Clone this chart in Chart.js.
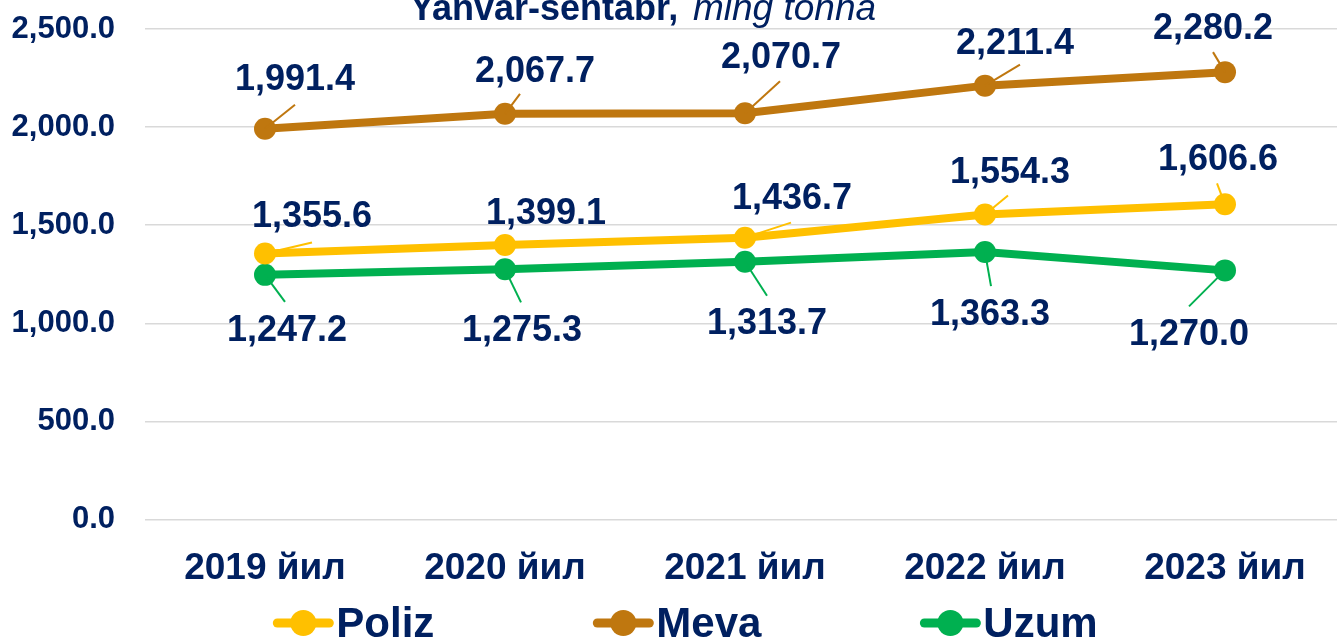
<!DOCTYPE html>
<html>
<head>
<meta charset="utf-8">
<script src="https://cdn.jsdelivr.net/npm/chart.js@4/dist/chart.umd.min.js"></script>
<style>
  html, body { margin: 0; padding: 0; background: #fff; overflow: hidden; }
  #prodChart { display: block; }
</style>
</head>
<body>
<canvas id="prodChart" width="1356" height="639"></canvas>
<script>
// data
const years = ['2019 йил', '2020 йил', '2021 йил', '2022 йил', '2023 йил'];
const poliz = [1355.6, 1399.1, 1436.7, 1554.3, 1606.6];
const meva = [1991.4, 2067.7, 2070.7, 2211.4, 2280.2];
const uzum = [1247.2, 1275.3, 1313.7, 1363.3, 1270.0];
const yTicks = [0, 500, 1000, 1500, 2000, 2500];

const navy = '#002060';
const fontFam = '"Liberation Sans", Arial, sans-serif';

// label placement: [label dx, label dy, leader dx, leader dy] relative to point
const labelPos = {
    Poliz: [[47, -37, 47, -11], [41, -32, null, null], [47, -40, 46, -15], [25, -43, 23, -19], [-7, -45, -8, -21]],
    Meva: [[30, -50, 30, -24], [30, -43, 15, -20], [36, -56, 35, -32], [30, -43, 35, -21], [-12, -44, -12, -20]],
    Uzum: [[22, 55, 20, 27], [17, 61, 16, 33], [22, 61, 22, 34], [5, 62, 6, 34], [-36, 64, -36, 36]]
};

const fmt = v => v.toLocaleString('en-US', { minimumFractionDigits: 1, maximumFractionDigits: 1 });

// point labels with leader lines
const pointLabels = {
    id: 'pointLabels',
    afterDatasetsDraw(chart) {
        const c = chart.ctx;
        chart.data.datasets.forEach((ds, i) => {
            const meta = chart.getDatasetMeta(i);
            meta.data.forEach((pt, j) => {
                const p = labelPos[ds.label][j];
                if (p[2] !== null) {
                    c.save();
                    c.strokeStyle = ds.borderColor;
                    c.lineWidth = 2;
                    c.beginPath();
                    c.moveTo(pt.x, pt.y);
                    c.lineTo(pt.x + p[2], pt.y + p[3]);
                    c.stroke();
                    c.restore();
                }
            });
        });
        chart.data.datasets.forEach((ds, i) => {
            const meta = chart.getDatasetMeta(i);
            meta.data.forEach((pt, j) => {
                const p = labelPos[ds.label][j];
                c.save();
                c.font = 'bold 36px ' + fontFam;
                c.fillStyle = navy;
                c.textAlign = 'center';
                c.textBaseline = 'middle';
                c.fillText(fmt(ds.data[j]), pt.x + p[0], pt.y + p[1] + 1);
                c.restore();
            });
        });
    }
};

// title (cut at the top) and custom legend
const extras = {
    id: 'extras',
    afterDraw(chart) {
        const c = chart.ctx;
        c.save();
        c.fillStyle = navy;
        c.textBaseline = 'alphabetic';
        c.textAlign = 'left';
        c.font = 'bold 36px ' + fontFam;
        c.fillText('Yanvar-sentabr,', 410, 20);
        c.font = 'italic 37px ' + fontFam;
        c.fillText('ming tonna', 693, 20);

        // legend
        c.font = 'bold 42px ' + fontFam;
        const items = chart.data.datasets.map(ds => ({ label: ds.label, color: ds.borderColor, w: 64 + c.measureText(ds.label).width }));
        const gap = 158;
        const total = items.reduce((s, it) => s + it.w, 0) + gap * (items.length - 1);
        let x = 686 - total / 2;
        const y = 623;
        items.forEach(it => {
            c.strokeStyle = it.color;
            c.lineWidth = 9;
            c.lineCap = 'round';
            c.beginPath();
            c.moveTo(x + 4, y);
            c.lineTo(x + 56, y);
            c.stroke();
            c.fillStyle = it.color;
            c.beginPath();
            c.arc(x + 30, y, 13, 0, Math.PI * 2);
            c.fill();
            c.fillStyle = navy;
            c.textBaseline = 'middle';
            c.fillText(it.label, x + 63, y + 2);
            x += it.w + gap;
        });
        c.restore();
    }
};

const mkSet = (label, data, color) => ({
    label: label,
    data: data,
    borderColor: color,
    backgroundColor: color,
    borderWidth: 8,
    pointRadius: 11,
    pointHoverRadius: 11,
    pointBackgroundColor: color,
    pointBorderWidth: 0,
    tension: 0
});

const ctx = document.getElementById('prodChart').getContext('2d');
const chart = new Chart(ctx, {
    type: 'line',
    data: {
        labels: years,
        datasets: [
            mkSet('Poliz', poliz, '#FFC000'),
            mkSet('Meva', meva, '#BF770F'),
            mkSet('Uzum', uzum, '#00B050')
        ]
    },
    options: {
        responsive: false,
        animation: false,
        layout: { padding: { top: 29, bottom: 21, left: 0, right: 0 } },
        plugins: {
            legend: { display: false },
            title: { display: false },
            tooltip: { enabled: false }
        },
        scales: {
            x: {
                offset: true,
                afterFit: s => { s.paddingLeft = 0; s.paddingRight = 0; },
                grid: { display: false, drawTicks: false },
                border: { display: false },
                ticks: {
                    padding: 27,
                    color: navy,
                    font: { family: fontFam, size: 37, weight: 'bold' },
                    maxRotation: 0
                }
            },
            y: {
                min: yTicks[0],
                max: yTicks[yTicks.length - 1],
                afterBuildTicks: s => { s.ticks = yTicks.map(v => ({ value: v })); },
                afterFit: s => { s.width = 145; s.paddingTop = 0; s.paddingBottom = 0; },
                grid: { color: '#D9D9D9', lineWidth: 1.5, drawTicks: false },
                border: { display: false },
                ticks: {
                    padding: 30,
                    color: navy,
                    font: { family: fontFam, size: 31, weight: 'bold' },
                    callback: v => fmt(v)
                }
            }
        }
    },
    plugins: [pointLabels, extras]
});
</script>
</body>
</html>
